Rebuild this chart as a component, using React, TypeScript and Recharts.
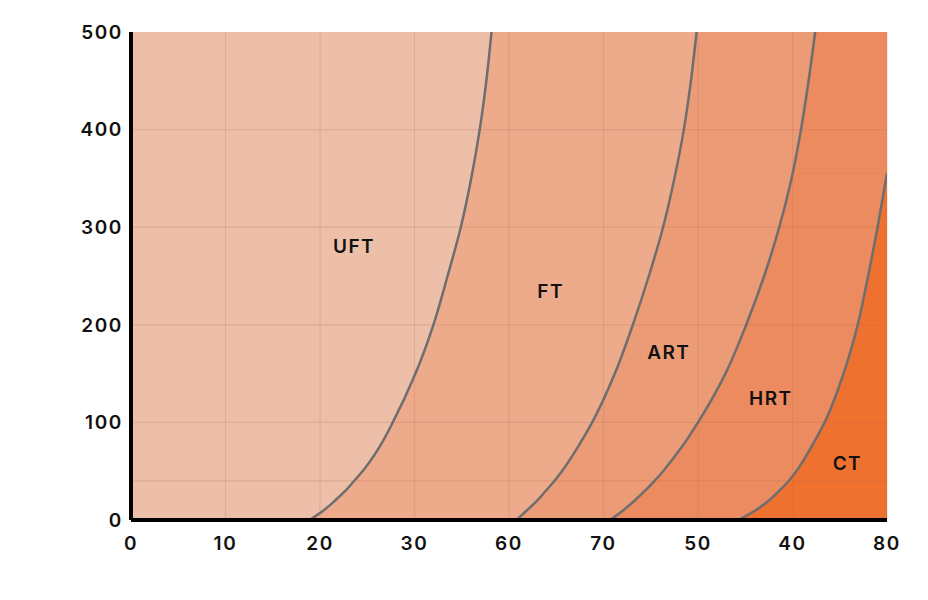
import React from "react";
import {
  ComposedChart,
  Area,
  Line,
  XAxis,
  YAxis,
  CartesianGrid,
  ReferenceDot,
} from "recharts";

// ---- data ----
const levels = [0, 10, 20, 30, 40, 50, 75, 100, 150, 200, 250, 300, 350, 400, 450, 500];
const ftBoundaryX = [18.9, 20.4, 21.6, 22.7, 23.6, 24.5, 26.3, 27.7, 30.1, 32.0, 33.5, 34.9, 36.0, 36.9, 37.6, 38.15];
const artBoundaryX = [40.8, 41.9, 43.0, 43.9, 44.8, 45.6, 47.3, 48.8, 51.2, 53.1, 54.8, 56.3, 57.5, 58.5, 59.25, 59.85];
const hrtBoundaryX = [50.7, 52.1, 53.3, 54.4, 55.4, 56.3, 58.3, 60.0, 62.9, 65.1, 67.0, 68.6, 69.9, 70.9, 71.7, 72.4];
const ctLevels = [0, 10, 20, 30, 40, 50, 75, 100, 150, 200, 250, 300, 355];
const ctBoundaryX = [64.3, 66.1, 67.5, 68.6, 69.6, 70.4, 72.0, 73.4, 75.4, 76.9, 78.0, 79.0, 80.0];

const xTicks = [0, 10, 20, 30, 40, 50, 60, 70, 80];
const xTickLabels = ["0", "10", "20", "30", "60", "70", "50", "40", "80"];
const yTicks = [0, 100, 200, 300, 400, 500];
const yGridValues = [40, 100, 200, 300, 400];

const regionNames = ["UFT", "FT", "ART", "HRT", "CT"];
const regionLabelX = [23.6, 44.4, 56.9, 67.7, 75.8];
const regionLabelY = [280, 234, 172, 125, 58];
const regionColors = ["#EDBFA9", "#EDAB8C", "#EC9B77", "#EC8B5F", "#EF7130"];

const X_MIN = 0;
const X_MAX = 80;
const Y_MAX = 500;

// ---- derived series ----
const toRows = (xs: number[], ys: number[]) => xs.map((x, i) => ({ x, y: ys[i] }));
// boundary i separates region i (left) from region i+1 (right)
const boundaries = [
  toRows(ftBoundaryX, levels),
  toRows(artBoundaryX, levels),
  toRows(hrtBoundaryX, levels),
  toRows(ctBoundaryX, ctLevels),
];
const backgroundRows = [
  { x: X_MAX, y: 0 },
  { x: X_MAX, y: Y_MAX },
];
// where a boundary leaves through the right edge, the region to its left
// covers the whole width above that point
const topFillRows = boundaries.map((rows) => {
  const last = rows[rows.length - 1];
  return last.y < Y_MAX
    ? [
        { x: X_MAX, y: last.y },
        { x: X_MAX, y: Y_MAX },
      ]
    : [];
});

const FONT = "Inter, 'Open Sans', sans-serif";
const tickStyle = {
  fill: "#111",
  fontSize: 19,
  fontWeight: 600,
  fontFamily: FONT,
  letterSpacing: 1.6,
};

const fillOrder = [3, 2, 1, 0];

export default function App() {
  return (
    <ComposedChart
      width={920}
      height={580}
      layout="vertical"
      margin={{ top: 24, right: 41, bottom: 28, left: 63 }}
    >
      <XAxis
        xAxisId="main"
        type="number"
        domain={[X_MIN, X_MAX]}
        ticks={xTicks}
        interval={0}
        allowDataOverflow
        tickFormatter={(v: number) => xTickLabels[xTicks.indexOf(v)]}
        tick={tickStyle}
        tickLine={false}
        tickMargin={11}
        height={40}
        axisLine={{ stroke: "#000", strokeWidth: 4 }}
      />
      <XAxis
        xAxisId="top"
        orientation="top"
        type="number"
        domain={[X_MIN, X_MAX]}
        tick={false}
        tickLine={false}
        height={0}
        axisLine={{ stroke: "#000", strokeWidth: 4 }}
      />
      <YAxis
        yAxisId="main"
        dataKey="y"
        type="number"
        reversed
        domain={[0, Y_MAX]}
        ticks={yTicks}
        interval={0}
        allowDataOverflow
        tick={tickStyle}
        tickLine={false}
        tickMargin={2}
        width={60}
        axisLine={{ stroke: "#000", strokeWidth: 4 }}
      />
      <YAxis
        yAxisId="right"
        orientation="right"
        type="number"
        domain={[0, Y_MAX]}
        tick={false}
        tickLine={false}
        width={0}
        axisLine={{ stroke: "#000", strokeWidth: 4 }}
      />

      <Area
        xAxisId="main"
        yAxisId="main"
        data={backgroundRows}
        dataKey="x"
        type="linear"
        fill={regionColors[4]}
        fillOpacity={1}
        stroke="none"
        dot={false}
        activeDot={false}
        isAnimationActive={false}
      />
      {fillOrder.map((i) => (
        <React.Fragment key={`fill-${i}`}>
          <Area
            xAxisId="main"
            yAxisId="main"
            data={boundaries[i]}
            dataKey="x"
            type="monotone"
            fill={regionColors[i]}
            fillOpacity={1}
            stroke="none"
            dot={false}
            activeDot={false}
            isAnimationActive={false}
          />
          {topFillRows[i].length > 0 && (
            <Area
              xAxisId="main"
              yAxisId="main"
              data={topFillRows[i]}
              dataKey="x"
              type="linear"
              fill={regionColors[i]}
              fillOpacity={1}
              stroke="none"
              dot={false}
              activeDot={false}
              isAnimationActive={false}
            />
          )}
        </React.Fragment>
      ))}

      <CartesianGrid
        xAxisId="main"
        yAxisId="main"
        horizontalValues={yGridValues}
        verticalValues={xTicks}
        stroke="#B86A48"
        strokeOpacity={0.22}
        strokeWidth={1.2}
        zIndex={150}
      />

      {boundaries.map((rows, i) => (
        <Line
          key={`line-${i}`}
          xAxisId="main"
          yAxisId="main"
          data={rows}
          dataKey="x"
          type="monotone"
          stroke="#6E6E6E"
          strokeWidth={2.5}
          dot={false}
          activeDot={false}
          isAnimationActive={false}
        />
      ))}

      {regionNames.map((name, i) => (
        <ReferenceDot
          key={name}
          xAxisId="main"
          yAxisId="main"
          x={regionLabelX[i]}
          y={regionLabelY[i]}
          r={0}
          fill="none"
          stroke="none"
          label={{
            value: name,
            position: "center",
            fill: "#111",
            fontSize: 19,
            fontWeight: 600,
            fontFamily: FONT,
            letterSpacing: 1.4,
          }}
        />
      ))}
    </ComposedChart>
  );
}
